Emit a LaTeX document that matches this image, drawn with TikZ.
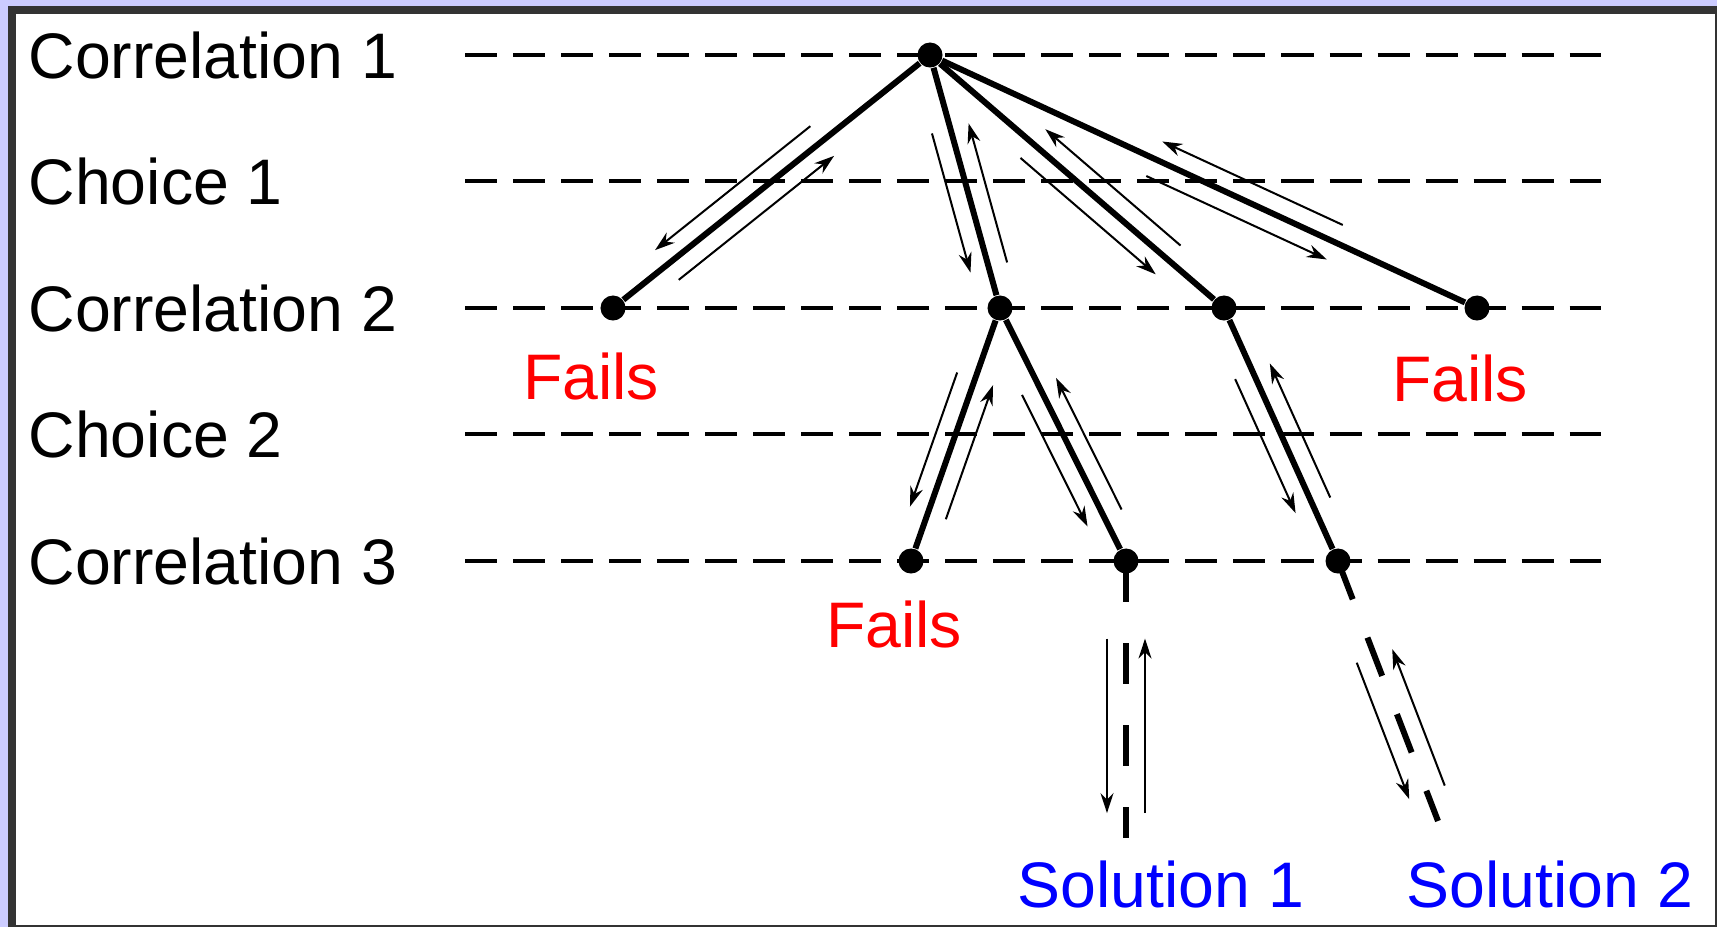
\documentclass[tikz,border=0pt]{standalone}
\usepackage{fontspec}
\setmainfont{Liberation Sans}
\usetikzlibrary{arrows.meta, calc}
\definecolor{framebg}{RGB}{204,204,255}
\definecolor{framedark}{RGB}{51,51,51}

\begin{document}
\begin{tikzpicture}[
    x=0.01cm, y=-0.01cm,
    >={Stealth[length=0.2cm, width=0.13cm]},
    txt/.style={inner sep=0pt, font=\fontsize{18.3}{22}\selectfont},
    rowlabel/.style={txt, anchor=west},
    fail/.style={txt, text=red},
    sol/.style={txt, text=blue},
    rowline/.style={line width=0.035cm, dash pattern=on 0.32cm off 0.16cm},
    branch/.style={line width=0.06cm},
    open/.style={branch, dash pattern=on 0.41cm off 0.41cm},
    dot/.style={circle, fill, inner sep=0pt, minimum size=0.25cm},
    trace/.style={->, line width=0.02cm}
  ]
  % Frame
  \fill[framebg] (0,0) rectangle (1717,927);
  \fill[framedark] (8,6) rectangle (1717,927);
  \fill[white] (16,14) rectangle (1715,925);
  \useasboundingbox (0,0) rectangle (1717,927);

  % Levels
  \foreach \y/\t in {55/Correlation 1, 181/Choice 1, 308/Correlation 2,
                     434/Choice 2, 561/Correlation 3} {
    \node[rowlabel] (row\y) at (28,\y) {\t};
    \draw[rowline] (465,\y) -- (1601,\y);
  }

  % Search tree
  \foreach \n/\x/\y in {c1/930/55, c2a/613/308, c2b/1000/308, c2c/1224/308,
                        c2d/1477/308, c3a/911/561, c3b/1126/561, c3c/1338/561} {
    \node[dot] (\n) at (\x,\y) {};
  }
  \coordinate (s1) at (1126,838);
  \coordinate (s2) at (1438,821);
  \foreach \a/\b in {c1/c2a, c1/c2b, c1/c2c, c1/c2d, c2b/c3a, c2b/c3b, c2c/c3c} {
    \draw[branch] (\a) -- (\b);
  }
  \draw[open] (c3b.center) -- (s1);
  \draw[open] (c3c.center) -- (s2);

  % Descend and backtrack
  \foreach \a/\b/\s/\e in {c1/c2a/0.34/0.83, c1/c2b/0.29/0.84, c1/c2c/0.35/0.81,
                           c1/c2d/0.41/0.74, c2b/c3a/0.28/0.81, c2b/c3b/0.31/0.83,
                           c2c/c3c/0.25/0.78, c3b/s1/0.28/0.91, c3c/s2/0.365/0.89} {
    \draw[trace] ($(\a)!\s!(\b)!0.19cm!-90:(\b)$) -- ($(\a)!\e!(\b)!0.19cm!-90:(\b)$);
    \draw[trace] ($(\a)!\e!(\b)!0.19cm!90:(\b)$) -- ($(\a)!\s!(\b)!0.19cm!90:(\b)$);
  }

  % Outcomes
  \node[fail] (fail1) at (591,376) {Fails};
  \node[fail] (fail2) at (1460,378) {Fails};
  \node[fail] (fail3) at (894,624) {Fails};
  \node[sol] (sol1) at (1161,884) {Solution 1};
  \node[sol] (sol2) at (1550,884) {Solution 2};
\end{tikzpicture}
\end{document}
